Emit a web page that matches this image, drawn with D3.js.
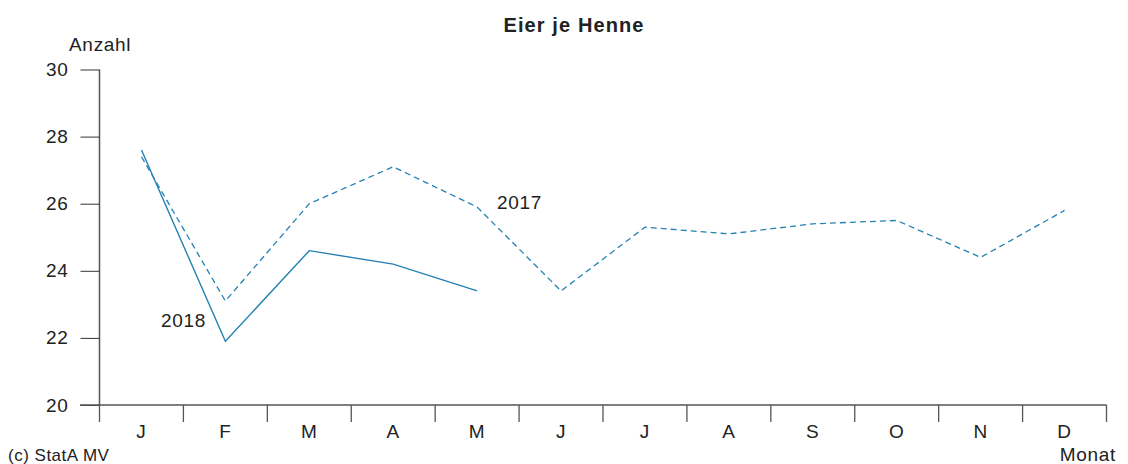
<!DOCTYPE html>
<html>
<head>
<meta charset="utf-8">
<script src="https://cdn.jsdelivr.net/npm/d3@7"></script>
<style>
  body { margin: 0; background: #fff; }
  text { font-family: "Liberation Sans", Arial, sans-serif; fill: #222; letter-spacing: 0.7px; }
</style>
</head>
<body>
<svg width="1128" height="464"></svg>
<script>
// months and values (Eier je Henne)
const months = ["J", "F", "M", "A", "M", "J", "J", "A", "S", "O", "N", "D"];
const values2017 = [27.4, 23.1, 26.0, 27.1, 25.9, 23.4, 25.3, 25.1, 25.4, 25.5, 24.4, 25.8];
const values2018 = [27.6, 21.9, 24.6, 24.2, 23.4];
const yTicks = [20, 22, 24, 26, 28, 30];

const lineColor = "#2581b2";
const axisColor = "#555";

let svg = d3.select("svg");

let x = d3.scaleBand()
    .domain(d3.range(months.length))
    .range([99.5, 1106.5]);

let y = d3.scaleLinear()
    .domain([20, 30])
    .range([405, 69.5]);

// title
svg.append("text")
    .attr("x", 574)
    .attr("y", 32)
    .attr("text-anchor", "middle")
    .style("font-size", "20px")
    .style("font-weight", "bold")
    .style("letter-spacing", "1.1px")
    .text("Eier je Henne");

// y axis
let yAxis = svg.append("g")
    .attr("transform", "translate(99.5,0)")
    .call(d3.axisLeft(y).tickValues(yTicks).tickSize(19).tickPadding(12));
yAxis.select(".domain").attr("stroke", axisColor).attr("stroke-width", 1.5)
    .attr("d", "M0," + y(30) + "V" + y(20));
yAxis.selectAll(".tick line").attr("stroke", "#333");
yAxis.selectAll(".tick text")
    .style("font-size", "19px")
    .style("font-family", "'Liberation Sans', Arial, sans-serif")
    .attr("fill", "#222");

// x axis: ticks at month boundaries, labels centered
let xg = svg.append("g").attr("transform", "translate(0,405)");
xg.append("line")
    .attr("x1", 80).attr("x2", 1106.5)
    .attr("stroke", axisColor).attr("stroke-width", 1.5);
xg.selectAll("line.tick")
    .data(d3.range(months.length + 1))
    .enter().append("line")
    .attr("class", "tick")
    .attr("x1", function(d) { return d < months.length ? x(d) : x(d - 1) + x.bandwidth(); })
    .attr("x2", function(d) { return d < months.length ? x(d) : x(d - 1) + x.bandwidth(); })
    .attr("y1", 0).attr("y2", 17)
    .attr("stroke", axisColor).attr("stroke-width", 1.3);
xg.selectAll("text")
    .data(months)
    .enter().append("text")
    .attr("x", function(d, i) { return x(i) + x.bandwidth() / 2; })
    .attr("y", 33)
    .attr("text-anchor", "middle")
    .style("font-size", "19px")
    .text(function(d) { return d; });

// lines
let line = d3.line()
    .x(function(d, i) { return x(i) + x.bandwidth() / 2; })
    .y(function(d) { return y(d); });

svg.append("path")
    .datum(values2017)
    .attr("d", line)
    .attr("fill", "none")
    .attr("stroke", lineColor)
    .attr("stroke-width", 1.3)
    .attr("stroke-dasharray", "6,4");

svg.append("path")
    .datum(values2018)
    .attr("d", line)
    .attr("fill", "none")
    .attr("stroke", lineColor)
    .attr("stroke-width", 1.4);

// labels
svg.append("text").attr("x", 497).attr("y", 209).style("font-size", "19px").text("2017");
svg.append("text").attr("x", 161).attr("y", 327).style("font-size", "19px").text("2018");

svg.append("text").attr("x", 69).attr("y", 51).style("font-size", "19px").text("Anzahl");
svg.append("text").attr("x", 1116).attr("y", 461).attr("text-anchor", "end").style("font-size", "19px").text("Monat");
svg.append("text").attr("x", 8).attr("y", 461).style("font-size", "17px").style("letter-spacing", "0.5px").text("(c) StatA MV");
</script>
</body>
</html>
